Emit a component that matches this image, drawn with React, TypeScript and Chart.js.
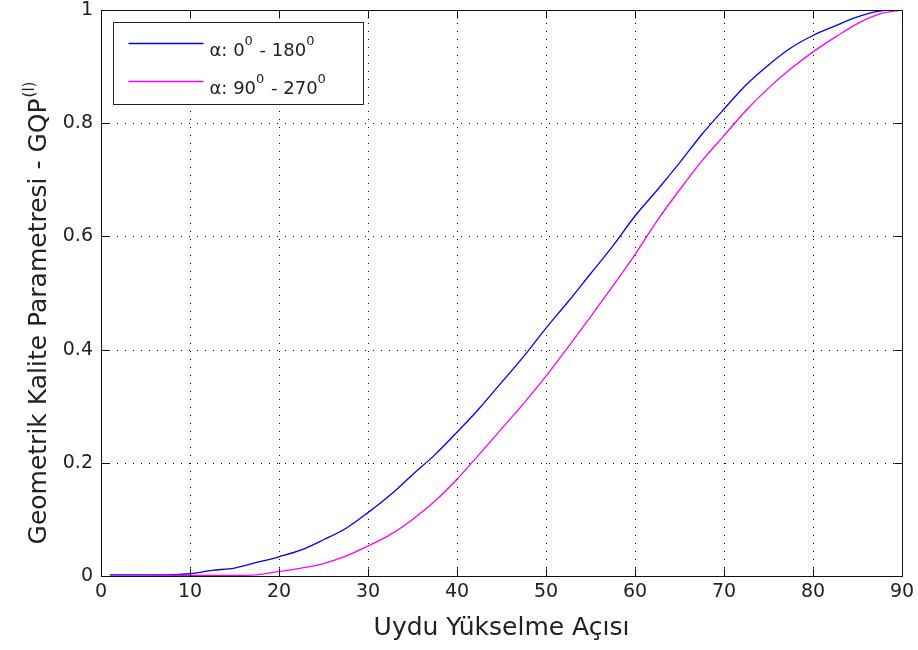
import React, { useEffect, useRef } from 'react';
import { Chart, registerables } from 'chart.js';

Chart.register(...registerables);

// ---- data ----
const angles = [1, 2.5, 5, 7.5, 10, 12.5, 15, 17.5, 20, 22.5, 25, 27.5, 30, 32.5, 35, 37.5, 40, 42.5, 45, 47.5, 50, 52.5, 55, 57.5, 60, 62.5, 65, 67.5, 70, 72.5, 75, 77.5, 80, 82.5, 85, 87.5, 90];
const gqp0to180 = [0.002, 0.002, 0.002, 0.002, 0.004, 0.010, 0.014, 0.024, 0.034, 0.046, 0.064, 0.084, 0.112, 0.143, 0.179, 0.214, 0.254, 0.296, 0.342, 0.388, 0.438, 0.485, 0.534, 0.583, 0.636, 0.682, 0.730, 0.780, 0.825, 0.868, 0.903, 0.933, 0.955, 0.972, 0.988, 0.998, 1.0];
const gqp90to270 = [0.0, 0.0, 0.0, 0.001, 0.001, 0.001, 0.001, 0.002, 0.008, 0.014, 0.022, 0.035, 0.053, 0.073, 0.100, 0.132, 0.171, 0.215, 0.260, 0.305, 0.353, 0.405, 0.458, 0.512, 0.568, 0.628, 0.682, 0.733, 0.778, 0.823, 0.862, 0.896, 0.926, 0.952, 0.976, 0.993, 1.0];

const xTicks = [0, 10, 20, 30, 40, 50, 60, 70, 80, 90];
const yTicks = [0, 0.2, 0.4, 0.6, 0.8, 1];
const yTickLabels = ['0', '0.2', '0.4', '0.6', '0.8', '1'];

const seriesLabels = ['α: 0⁰ - 180⁰', 'α: 90⁰ - 270⁰'];
// legend text parts: [normal, superscript, normal, superscript]
const legendParts = [
  ['α: 0', '0', ' - 180', '0'],
  ['α: 90', '0', ' - 270', '0'],
];
const seriesColors = ['#0000ff', '#ff00ff'];

const xTitle = 'Uydu Yükselme Açısı';
const yTitleMain = 'Geometrik Kalite Parametresi - GQP';
const yTitleSup = '(l)';

const FONT = '"DejaVu Sans", "Liberation Sans", Arial, sans-serif';
const TEXT = '#222222';

const matlabPlugin = {
  id: 'matlabAxes',
  beforeDatasetsDraw(chart: any) {
    const { ctx, chartArea: a, scales } = chart;
    const x = scales.x;
    const y = scales.y;
    ctx.save();
    ctx.strokeStyle = '#000000';
    ctx.lineWidth = 1;
    ctx.setLineDash([1, 7]);
    for (const v of xTicks) {
      const px = Math.round(x.getPixelForValue(v)) + 0.5;
      ctx.beginPath();
      ctx.moveTo(px, a.bottom);
      ctx.lineTo(px, a.top);
      ctx.stroke();
    }
    for (const v of yTicks) {
      const py = Math.round(y.getPixelForValue(v)) + 0.5;
      ctx.beginPath();
      ctx.moveTo(a.left, py);
      ctx.lineTo(a.right, py);
      ctx.stroke();
    }
    ctx.restore();
  },
  afterDatasetsDraw(chart: any) {
    const { ctx, chartArea: a, scales } = chart;
    const x = scales.x;
    const y = scales.y;
    const L = Math.round(a.left) + 0.5;
    const R = Math.round(a.right) + 0.5;
    const T = Math.round(a.top) + 0.5;
    const B = Math.round(a.bottom) + 0.5;
    ctx.save();
    ctx.setLineDash([]);
    ctx.strokeStyle = '#111111';
    ctx.lineWidth = 1;
    ctx.strokeRect(L, T, R - L, B - T);
    const tl = 8;
    ctx.beginPath();
    for (const v of xTicks) {
      const px = Math.round(x.getPixelForValue(v)) + 0.5;
      ctx.moveTo(px, B);
      ctx.lineTo(px, B - tl);
      ctx.moveTo(px, T);
      ctx.lineTo(px, T + tl);
    }
    for (const v of yTicks) {
      const py = Math.round(y.getPixelForValue(v)) + 0.5;
      ctx.moveTo(L, py);
      ctx.lineTo(L + tl, py);
      ctx.moveTo(R, py);
      ctx.lineTo(R - tl, py);
    }
    ctx.stroke();

    // legend
    const bx = L + 12;
    const by = T + 12;
    const bw = 250;
    const bh = 82;
    ctx.fillStyle = '#ffffff';
    ctx.fillRect(bx, by, bw, bh);
    ctx.strokeStyle = '#222222';
    ctx.strokeRect(bx, by, bw, bh);
    const rowY = [by + 20.5, by + 58.5];
    legendParts.forEach((parts, i) => {
      const ly = Math.round(rowY[i]) + 0.5;
      ctx.strokeStyle = seriesColors[i];
      ctx.lineWidth = 1.3;
      ctx.beginPath();
      ctx.moveTo(bx + 15, ly);
      ctx.lineTo(bx + 90, ly);
      ctx.stroke();
      let tx = bx + 96;
      const base = ly + 12.5;
      ctx.fillStyle = TEXT;
      ctx.textBaseline = 'alphabetic';
      ctx.textAlign = 'left';
      parts.forEach((p, j) => {
        const sup = j % 2 === 1;
        ctx.font = `${sup ? 13 : 18}px ${FONT}`;
        ctx.fillText(p, tx, sup ? base - 11 : base);
        tx += ctx.measureText(p).width + (sup ? 1 : 0);
      });
    });

    // y axis title with superscript
    ctx.translate(0, 313);
    ctx.rotate(-Math.PI / 2);
    ctx.fillStyle = TEXT;
    ctx.textAlign = 'left';
    ctx.textBaseline = 'alphabetic';
    ctx.font = `25px ${FONT}`;
    const w1 = ctx.measureText(yTitleMain).width;
    ctx.font = `15px ${FONT}`;
    const w2 = ctx.measureText(yTitleSup).width;
    const start = -(w1 + w2 + 1) / 2;
    ctx.font = `25px ${FONT}`;
    ctx.fillText(yTitleMain, start, 46);
    ctx.font = `15px ${FONT}`;
    ctx.fillText(yTitleSup, start + w1 + 1, 34);
    ctx.restore();
  },
};

export default function App() {
  const ref = useRef<HTMLCanvasElement | null>(null);

  useEffect(() => {
    if (!ref.current) return;
    const chart = new Chart(ref.current, {
      type: 'line',
      data: {
        datasets: [
          {
            label: seriesLabels[0],
            data: angles.map((a, i) => ({ x: a, y: gqp0to180[i] })),
            borderColor: seriesColors[0],
            backgroundColor: seriesColors[0],
            borderWidth: 1.3,
            pointRadius: 0,
            cubicInterpolationMode: 'monotone',
            order: 1,
          },
          {
            label: seriesLabels[1],
            data: angles.map((a, i) => ({ x: a, y: gqp90to270[i] })),
            borderColor: seriesColors[1],
            backgroundColor: seriesColors[1],
            borderWidth: 1.3,
            pointRadius: 0,
            cubicInterpolationMode: 'monotone',
            order: 0,
          },
        ],
      },
      options: {
        responsive: false,
        animation: false,
        devicePixelRatio: 1,
        layout: { padding: { top: 10, right: 16, left: 0, bottom: 0 } },
        plugins: {
          legend: { display: false },
          tooltip: { enabled: false },
        },
        scales: {
          x: {
            type: 'linear',
            min: 0,
            max: 90,
            afterBuildTicks: (s: any) => {
              s.ticks = xTicks.map((v) => ({ value: v }));
            },
            afterFit: (s: any) => {
              s.height = 74;
              s.paddingLeft = 0;
              s.paddingRight = 0;
            },
            grid: { display: false, drawTicks: false },
            border: { display: false },
            ticks: {
              color: TEXT,
              font: { family: FONT, size: 19 },
              padding: 5,
              maxRotation: 0,
              autoSkip: false,
              callback: (v: any) => String(v),
            },
            title: {
              display: true,
              text: xTitle,
              color: TEXT,
              font: { family: FONT, size: 25 },
              padding: { top: 0, bottom: 7 },
            },
          },
          y: {
            type: 'linear',
            min: 0,
            max: 1,
            afterBuildTicks: (s: any) => {
              s.ticks = yTicks.map((v) => ({ value: v }));
            },
            afterFit: (s: any) => {
              s.width = 101;
              s.paddingTop = 0;
              s.paddingBottom = 0;
            },
            grid: { display: false, drawTicks: false },
            border: { display: false },
            ticks: {
              color: TEXT,
              font: { family: FONT, size: 19 },
              padding: 8,
              autoSkip: false,
              callback: (_v: any, i: number) => yTickLabels[i],
            },
          },
        },
      },
      plugins: [matlabPlugin],
    } as any);
    return () => chart.destroy();
  }, []);

  return (
    <div style={{ position: 'absolute', left: 0, top: 0, width: 918, height: 650, background: '#ffffff' }}>
      <canvas ref={ref} width={918} height={650} style={{ display: 'block', width: 918, height: 650 }} />
    </div>
  );
}
